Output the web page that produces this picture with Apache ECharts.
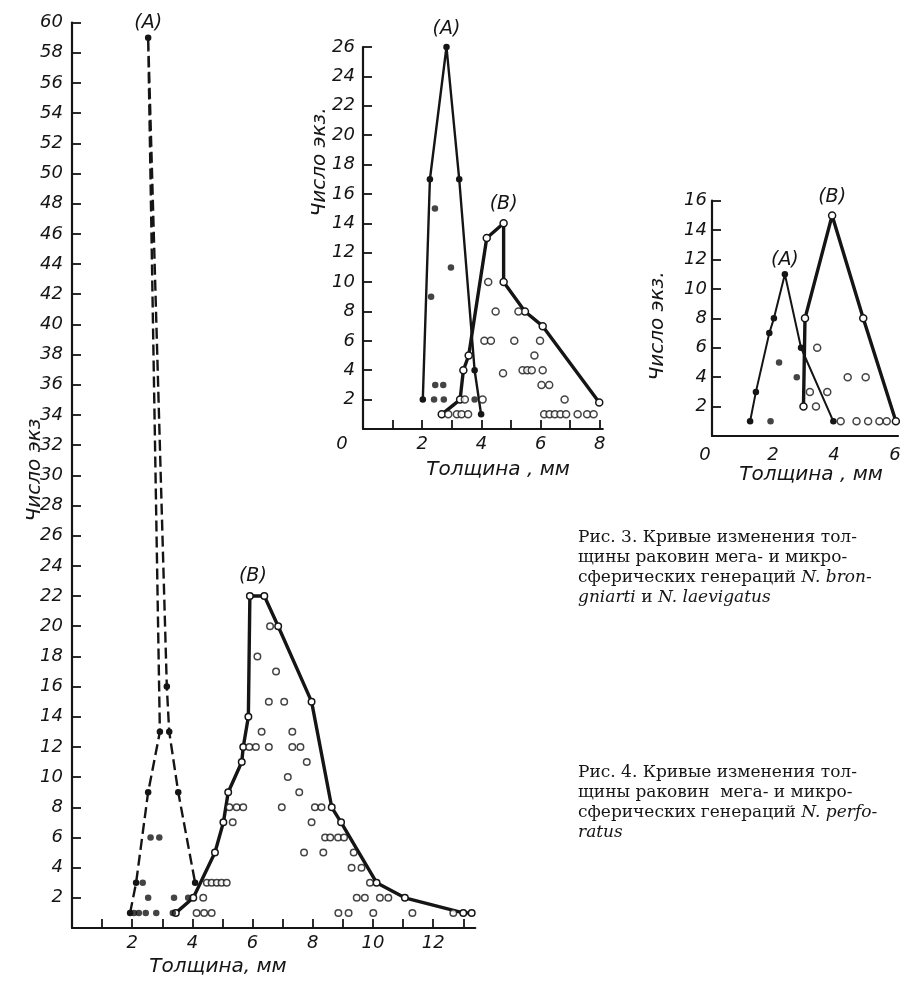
<!DOCTYPE html>
<html>
<head>
<meta charset="utf-8">
<script src="https://cdn.jsdelivr.net/npm/echarts@6/dist/echarts.min.js"></script>
<style>
  html, body { margin: 0; padding: 0; background: #fff; }
  #chart { width: 903px; height: 984px; }
</style>
</head>
<body>
<div id="chart"></div>
<script>
// ---- Рис. 4: N. perforatus (large chart) ----
const perfXTicks = [1, 2, 3, 4, 5, 6, 7, 8, 9, 10, 11, 12, 13];
const perfXLabels = [2, 4, 6, 8, 10, 12];
const perfYLabels = [2, 4, 6, 8, 10, 12, 14, 16, 18, 20, 22, 24, 26, 28, 30, 32, 34, 36, 38, 40, 42, 44, 46, 48, 50, 52, 54, 56, 58, 60];
// (A) megalospheric, dashed curve with filled dots
const perfCurveA = [[1.93, 1], [2.13, 3], [2.53, 9], [2.92, 13], [2.53, 59], [3.15, 16], [3.23, 13], [3.53, 9], [4.09, 3]];
const perfDotsA = [[2.35, 3], [2.61, 6], [2.9, 6], [2.53, 2], [3.39, 2], [3.86, 2], [3.35, 1], [2.06, 1], [2.22, 1], [2.45, 1], [2.8, 1]];
// (B) microspheric, solid curve with open dots
const perfCurveB = [[3.45, 1], [4.03, 2], [4.75, 5], [5.03, 7], [5.19, 9], [5.64, 11], [5.69, 12], [5.86, 14], [5.91, 22], [6.39, 22], [6.85, 20], [7.96, 15], [8.63, 8], [8.94, 7], [10.12, 3], [11.06, 2], [13.0, 1], [13.28, 1]];
const perfDotsB = [
  [4.36, 2], [4.14, 1], [4.39, 1], [4.64, 1],
  [4.48, 3], [4.64, 3], [4.81, 3], [4.97, 3], [5.14, 3],
  [5.34, 7], [5.23, 8], [5.47, 8], [5.69, 8], [6.97, 8],
  [5.89, 12], [6.11, 12], [6.54, 12], [7.32, 12], [7.59, 12],
  [6.3, 13], [7.32, 13],
  [6.16, 18], [6.78, 17], [6.54, 15], [7.05, 15], [6.58, 20],
  [7.8, 11], [7.17, 10], [7.55, 9], [8.07, 8], [8.29, 8], [7.96, 7],
  [8.41, 6], [8.58, 6], [8.84, 6], [9.04, 6],
  [7.71, 5], [8.35, 5], [9.36, 5],
  [9.29, 4], [9.62, 4], [9.9, 3],
  [9.46, 2], [9.73, 2], [10.23, 2], [10.51, 2],
  [8.85, 1], [9.19, 1], [10.01, 1], [11.31, 1], [12.67, 1]
];

// ---- Рис. 3, left: N. brongniarti ----
const bronXTicks = [1, 2, 3, 4, 5, 6, 7, 8];
const bronXLabels = [0, 2, 4, 6, 8];
const bronYLabels = [2, 4, 6, 8, 10, 12, 14, 16, 18, 20, 22, 24, 26];
const bronCurveA = [[2.02, 2], [2.26, 17], [2.82, 26], [3.25, 17], [3.77, 4], [3.99, 1]];
const bronDotsA = [[2.43, 15], [2.3, 9], [2.97, 11], [2.44, 3], [2.71, 3], [2.4, 2], [2.73, 2], [3.77, 2]];
const bronCurveB = [[2.66, 1], [3.28, 2], [3.39, 4], [3.57, 5], [4.18, 13], [4.75, 14], [4.75, 10], [5.47, 8], [6.07, 7], [7.98, 1.8]];
const bronDotsB = [
  [4.23, 10], [4.48, 8], [5.25, 8], [4.1, 6], [4.32, 6], [5.11, 6], [5.98, 6], [5.79, 5],
  [4.73, 3.8], [5.39, 4], [5.55, 4], [5.7, 4], [6.07, 4], [6.03, 3], [6.29, 3], [6.81, 2],
  [4.04, 2], [3.44, 2], [2.88, 1], [3.17, 1], [3.33, 1], [3.55, 1],
  [6.12, 1], [6.3, 1], [6.48, 1], [6.67, 1], [6.86, 1], [7.25, 1], [7.57, 1], [7.79, 1]
];

// ---- Рис. 3, right: N. laevigatus ----
const laevXLabels = [0, 2, 4, 6];
const laevYLabels = [2, 4, 6, 8, 10, 12, 14, 16];
const laevCurveA = [[1.25, 1], [1.44, 3], [1.88, 7], [2.03, 8], [2.39, 11], [2.92, 6], [3.98, 1]];
const laevDotsA = [[2.2, 5], [2.78, 4], [1.92, 1]];
const laevCurveB = [[3.0, 2], [3.05, 8], [3.94, 15], [4.96, 8], [6.03, 1]];
const laevDotsB = [[3.45, 6], [3.21, 3], [3.78, 3], [3.41, 2], [4.45, 4], [5.04, 4], [4.22, 1], [4.74, 1], [5.12, 1], [5.49, 1], [5.73, 1]];

// ---- Captions ----
const caption3 = [
  'Рис. 3. Кривые изменения тол-',
  'щины раковин мега- и микро-',
  'сферических генераций {i|N. bron-}',
  '{i|gniarti} и {i|N. laevigatus}'
];
const caption4 = [
  'Рис. 4. Кривые изменения тол-',
  'щины раковин  мега- и микро-',
  'сферических генераций {i|N. perfo-}',
  '{i|ratus}'
];

const INK = '#151515';
const HAND = 'DejaVu Sans';
const SERIF = 'DejaVu Serif';

const handFont = { color: INK, fontFamily: HAND, fontStyle: 'italic', fontSize: 18 };

// originShift: how far the "0" sits left of the axis corner
function xAxisOf(gridIndex, max, ticks, labels, margin, originShift) {
  return {
    type: 'value', gridIndex, min: 0, max, interval: 1,
    splitLine: { show: false },
    axisLine: { show: true, onZero: false, lineStyle: { color: INK, width: 2.2 } },
    axisTick: ticks
      ? { show: true, inside: true, length: 9, customValues: ticks, lineStyle: { color: INK, width: 1.8 } }
      : { show: false },
    axisLabel: Object.assign({
      customValues: labels, margin,
      formatter: v => (v === 0 ? '{o|0}' : String(v)),
      rich: { o: Object.assign({ padding: [0, 2 * (originShift || 0), 0, 0] }, handFont) }
    }, handFont)
  };
}
function yAxisOf(gridIndex, max, labels, margin) {
  return {
    type: 'value', gridIndex, min: 0, max, interval: 2,
    splitLine: { show: false },
    axisLine: { show: true, onZero: false, lineStyle: { color: INK, width: 2.2 } },
    axisTick: { show: true, inside: true, length: 9, customValues: labels, lineStyle: { color: INK, width: 1.8 } },
    axisLabel: Object.assign({ customValues: labels, margin }, handFont)
  };
}

const peakIndex = arr => arr.reduce((b, p, i) => (p[1] > arr[b][1] ? i : b), 0);
function withLabel(arr, text, distance, offset) {
  const k = peakIndex(arr);
  return arr.map((p, i) => i === k ? {
    value: p,
    label: { show: true, formatter: text, position: 'top', distance, offset: offset || [0, 0],
      color: INK, fontFamily: HAND, fontStyle: 'italic', fontSize: 19 }
  } : p);
}

const filled = { color: INK, borderColor: INK, borderWidth: 0 };
const hollow = { color: '#fff', borderColor: INK, borderWidth: 1.5 };

function curve(idx, data, width, dashed, item, size) {
  return {
    type: 'line', xAxisIndex: idx, yAxisIndex: idx, data,
    symbol: 'circle', symbolSize: size, showSymbol: true, showAllSymbol: true,
    lineStyle: { color: INK, width, type: dashed ? [11, 5] : 'solid' },
    itemStyle: item, z: 3, silent: true, emphasis: { disabled: true }
  };
}
function dots(idx, data, item, size) {
  return {
    type: 'scatter', xAxisIndex: idx, yAxisIndex: idx, data,
    symbol: 'circle', symbolSize: size, itemStyle: item, z: 4, silent: true,
    emphasis: { disabled: true }
  };
}

function textEl(x, y, text, size, family, rotation) {
  return {
    type: 'text', x, y, rotation: rotation || 0, silent: true,
    style: { text, fill: INK, fontFamily: family, fontStyle: 'italic', fontSize: size,
      textAlign: 'center', textVerticalAlign: 'middle' }
  };
}
function captionEls(lines, x, y0, step) {
  return lines.map((t, i) => ({
    type: 'text', x, y: y0 + i * step, silent: true,
    style: {
      text: t, fill: INK, fontFamily: SERIF, fontSize: 17,
      textAlign: 'left', textVerticalAlign: 'middle',
      rich: { i: { fontFamily: SERIF, fontSize: 17, fontStyle: 'italic', fill: INK } }
    }
  }));
}

const chart = echarts.init(document.getElementById('chart'), null, { renderer: 'canvas' });
chart.setOption({
  animation: false,
  backgroundColor: '#fff',
  grid: [
    { left: 72, top: 22.6, width: 403.3, height: 905.4, outerBoundsMode: 'none', containLabel: false },
    { left: 363, top: 47, width: 239.8, height: 382, outerBoundsMode: 'none', containLabel: false },
    { left: 712, top: 200.7, width: 186, height: 235.3, outerBoundsMode: 'none', containLabel: false }
  ],
  xAxis: [
    xAxisOf(0, 13.4, perfXTicks, perfXLabels, 6, 0),
    xAxisOf(1, 8.1, bronXTicks, bronXLabels, 6, 21),
    xAxisOf(2, 6.1, null, laevXLabels, 10, 7)
  ],
  yAxis: [
    yAxisOf(0, 60, perfYLabels, 9),
    yAxisOf(1, 26, bronYLabels, 8),
    yAxisOf(2, 16, laevYLabels, 5)
  ],
  series: [
    curve(0, withLabel(perfCurveA, '(A)', 2), 2.4, true, filled, 6.5),
    dots(0, perfDotsA, filled, 6.5),
    curve(0, withLabel(perfCurveB, '(B)', 6, [3, 0]), 3.4, false, hollow, 6.5),
    dots(0, perfDotsB, hollow, 6.5),

    curve(1, withLabel(bronCurveA, '(A)', 5), 2.4, false, filled, 6.5),
    dots(1, bronDotsA, filled, 6.5),
    curve(1, withLabel(bronCurveB, '(B)', 5), 3.4, false, hollow, 7),
    dots(1, bronDotsB, hollow, 7),

    curve(2, withLabel(laevCurveA, '(A)', 1), 2, false, filled, 6.5),
    dots(2, laevDotsA, filled, 6.5),
    curve(2, withLabel(laevCurveB, '(B)', 5), 3.4, false, hollow, 7),
    dots(2, laevDotsB, hollow, 7)
  ],
  graphic: [
    textEl(35, 470, 'Число экз', 20, HAND, Math.PI / 2),
    textEl(218, 967, 'Толщина, мм', 20, HAND),
    textEl(320, 162, 'Число экз.', 20, HAND, Math.PI / 2),
    textEl(498, 470, 'Толщина , мм', 20, HAND),
    textEl(658, 326, 'Число экз.', 20, HAND, Math.PI / 2),
    textEl(811, 475, 'Толщина , мм', 20, HAND)
  ].concat(captionEls(caption3, 578, 537.5, 20), captionEls(caption4, 578, 772.5, 20))
});
</script>
</body>
</html>
